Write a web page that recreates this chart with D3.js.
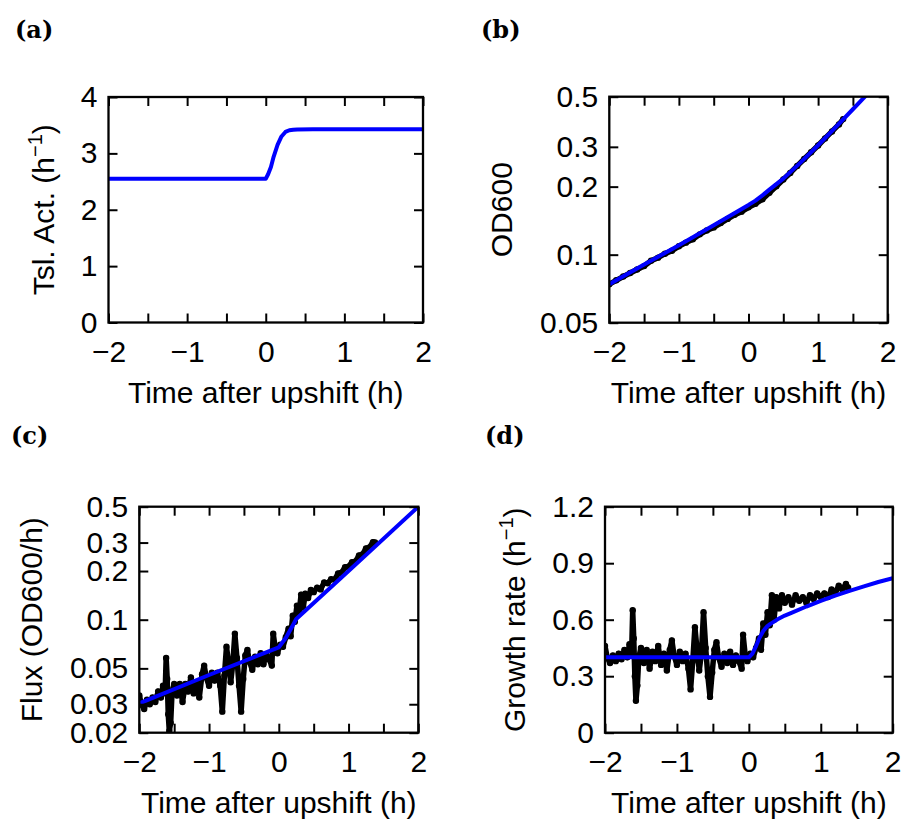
<!DOCTYPE html>
<html>
<head>
<meta charset="utf-8">
<script src="https://cdn.jsdelivr.net/npm/d3@7"></script>
<style>
  body { margin: 0; background: #fff; }
</style>
</head>
<body>
<script>
// ---- data ----
var xTicks = [-2, -1.5, -1, -0.5, 0, 0.5, 1, 1.5, 2];

// (a) translational activity, model
var tslT = [-2, 0, 0.03, 0.066, 0.1, 0.15, 0.2, 0.25, 0.3, 0.35, 0.4, 0.6, 2];
var tslV = [2.55, 2.55, 2.63, 2.76, 2.94, 3.15, 3.30, 3.38, 3.41, 3.42, 3.425, 3.43, 3.43];
var yTicksA = [0, 1, 2, 3, 4];

// (b) OD600, measured and model
var odT = [-2, -1.9, -1.8, -1.7, -1.6, -1.5, -1.4, -1.3, -1.2, -1.1, -1, -0.9, -0.8, -0.7, -0.6, -0.5,
           -0.4, -0.3, -0.2, -0.1, 0, 0.1, 0.2, 0.3, 0.4, 0.5, 0.6, 0.7, 0.8, 0.9, 1, 1.1, 1.2, 1.3, 1.36];
var odData = [0.074, 0.077, 0.080, 0.083, 0.086, 0.089, 0.094, 0.097, 0.101, 0.104, 0.109, 0.113, 0.117, 0.123,
              0.128, 0.132, 0.138, 0.144, 0.150, 0.155, 0.162, 0.168, 0.176, 0.188, 0.201, 0.215, 0.230, 0.247,
              0.265, 0.284, 0.304, 0.327, 0.351, 0.377, 0.398];
var odModelT = [-2, -1.5, -1, -0.5, 0, 0.1, 0.2, 0.3, 0.5, 0.75, 1, 1.25, 1.5, 1.75, 2];
var odModelV = [0.074, 0.0905, 0.110, 0.135, 0.166, 0.1735, 0.183, 0.194, 0.217, 0.256, 0.305, 0.366, 0.44, 0.53, 0.63];
var yTicksB = [0.05, 0.1, 0.2, 0.3, 0.5];

// (c), (d) measured flux and growth rate
var tData = [-2, -1.97, -1.93, -1.89, -1.85, -1.81, -1.77, -1.73, -1.69, -1.66, -1.63, -1.615, -1.6, -1.585,
             -1.57, -1.55, -1.53, -1.5, -1.46, -1.42, -1.38, -1.34, -1.3, -1.26, -1.22, -1.18, -1.14, -1.1,
             -1.07, -1.04, -1, -0.96, -0.92, -0.88, -0.84, -0.81, -0.78, -0.75, -0.72, -0.69, -0.66, -0.63,
             -0.6, -0.57, -0.54, -0.51, -0.48, -0.45, -0.42, -0.38, -0.34, -0.3, -0.26, -0.22, -0.18, -0.14,
             -0.1, -0.08, -0.05, -0.02, 0.02, 0.06, 0.1, 0.14, 0.17, 0.2, 0.23, 0.26, 0.29, 0.32, 0.35, 0.38,
             0.42, 0.46, 0.5, 0.55, 0.6, 0.65, 0.7, 0.75, 0.8, 0.85, 0.9, 0.95, 1, 1.05, 1.1, 1.15, 1.2, 1.25,
             1.3, 1.35, 1.38];
var growthData = [0.46, 0.40, 0.37, 0.41, 0.38, 0.42, 0.39, 0.44, 0.40, 0.47, 0.42, 0.65, 0.50, 0.30,
                  0.17, 0.25, 0.40, 0.45, 0.37, 0.44, 0.34, 0.43, 0.38, 0.46, 0.36, 0.42, 0.33, 0.44,
                  0.49, 0.41, 0.36, 0.43, 0.38, 0.42, 0.34, 0.23, 0.38, 0.56, 0.44, 0.33, 0.42, 0.64,
                  0.45, 0.30, 0.19, 0.32, 0.44, 0.48, 0.40, 0.35, 0.42, 0.37, 0.43, 0.36, 0.41, 0.38,
                  0.34, 0.52, 0.41, 0.38, 0.42, 0.40, 0.45, 0.50, 0.44, 0.58, 0.52, 0.64, 0.57, 0.73, 0.60, 0.72,
                  0.66, 0.73, 0.69, 0.72, 0.68, 0.73, 0.70, 0.72, 0.69, 0.73, 0.71, 0.74, 0.72, 0.74, 0.72, 0.76, 0.74, 0.78,
                  0.76, 0.79, 0.77];
var fluxData = [0.034, 0.030, 0.028, 0.032, 0.030, 0.033, 0.031, 0.036, 0.033, 0.039, 0.035, 0.058, 0.043, 0.026,
                0.0205, 0.023, 0.036, 0.040, 0.034, 0.040, 0.031, 0.040, 0.036, 0.044, 0.035, 0.041, 0.033, 0.046,
                0.052, 0.044, 0.039, 0.047, 0.042, 0.047, 0.039, 0.027, 0.045, 0.068, 0.054, 0.041, 0.053, 0.082,
                0.058, 0.039, 0.027, 0.043, 0.060, 0.065, 0.055, 0.049, 0.059, 0.053, 0.062, 0.053, 0.061, 0.057,
                0.052, 0.082, 0.066, 0.062, 0.070, 0.068, 0.078, 0.088, 0.079, 0.106, 0.097, 0.122, 0.110, 0.143, 0.119, 0.145,
                0.136, 0.153, 0.148, 0.158, 0.154, 0.170, 0.168, 0.178, 0.177, 0.193, 0.195, 0.211, 0.213, 0.227, 0.229, 0.250, 0.253, 0.276,
                0.280, 0.302, 0.300];
var fluxModelT = [-2, -1, 0, 0.1, 0.2, 0.25, 1, 2];
var fluxModelV = [0.0304, 0.0455, 0.0675, 0.077, 0.092, 0.101, 0.2, 0.5];
var yTicksC = [0.02, 0.03, 0.05, 0.1, 0.2, 0.3, 0.5];

var growthModelT = [-2, 0, 0.05, 0.1, 0.15, 0.2, 0.25, 0.3, 0.4, 0.5, 0.6, 0.8, 1, 1.2, 1.4, 1.6, 1.8, 2];
var growthModelV = [0.4, 0.4, 0.42, 0.46, 0.505, 0.54, 0.563, 0.578, 0.602, 0.622, 0.638, 0.67, 0.70, 0.728, 0.753, 0.777, 0.80, 0.82];
var yTicksD = [0, 0.3, 0.6, 0.9, 1.2];

var blue = "#0000ff";
var sans = "Liberation Sans, Arial, Helvetica, sans-serif";

var svg = d3.select("body").append("svg")
    .attr("width", 905)
    .attr("height", 822)
    .style("background", "#fff")
    .style("font-family", sans);

function fmtX(d) {
  if (d % 1 !== 0) return "";
  return d < 0 ? "\u2212" + Math.abs(d) : "" + d;
}

function zip(t, v) { return t.map(function(d, i) { return [d, v[i]]; }); }

var clipN = 0;
function panel(p) {
  var g = svg.append("g").attr("transform", "translate(" + p.left + "," + p.top + ")");
  var x = d3.scaleLinear().domain([-2, 2]).range([0, p.w]);
  var y = p.y.range([p.h, 0]);

  var id = "clip" + (clipN++);
  g.append("clipPath").attr("id", id).append("rect").attr("width", p.w).attr("height", p.h);
  var plot = g.append("g").attr("clip-path", "url(#" + id + ")");

  var bx = g.append("g").attr("transform", "translate(0," + p.h + ")")
      .call(d3.axisBottom(x).tickValues(xTicks).tickSize(-9).tickPadding(18).tickFormat(fmtX));
  var tx = g.append("g")
      .call(d3.axisTop(x).tickValues(xTicks).tickSize(-9).tickFormat(""));
  var ly = g.append("g")
      .call(d3.axisLeft(y).tickValues(p.yTicks).tickSize(-9).tickPadding(11).tickFormat(p.yFmt));
  var ry = g.append("g").attr("transform", "translate(" + p.w + ",0)")
      .call(d3.axisRight(y).tickValues(p.yTicks).tickSize(-9).tickFormat(""));
  [bx, tx, ly, ry].forEach(function(a) {
    a.attr("font-family", sans).attr("font-size", 30);
    a.select(".domain").remove();
    a.selectAll("line").attr("stroke", "#000").attr("stroke-width", 2);
    a.selectAll("text").attr("fill", "#000");
  });

  g.append("text")
      .attr("x", p.w / 2)
      .attr("y", p.h + 80)
      .attr("text-anchor", "middle")
      .attr("font-size", 30)
      .text("Time after upshift (h)");

  var yl = g.append("text")
      .attr("transform", "translate(" + p.labelX + "," + (p.h / 2) + ") rotate(-90)")
      .attr("text-anchor", "middle")
      .attr("font-size", 30)
      .text(p.yLabel);
  if (p.sup) {
    yl.append("tspan").attr("dy", -12).attr("font-size", 20).text("\u22121");
    yl.append("tspan").attr("dy", 12).text(")");
  }

  svg.append("text")
      .attr("x", p.letterX)
      .attr("y", p.letterY)
      .style("font-family", "'DejaVu Serif', 'Liberation Serif', serif")
      .style("font-weight", "bold")
      .style("font-size", "24px")
      .text(p.letter);

  return { g: g, x: x, y: y, plot: plot, w: p.w, h: p.h };
}

function drawData(P, pts) {
  var line = d3.line().x(function(d) { return P.x(d[0]); }).y(function(d) { return P.y(d[1]); });
  P.plot.append("path").datum(pts)
      .attr("d", line)
      .attr("fill", "none")
      .attr("stroke", "#000")
      .attr("stroke-width", 5.5)
      .attr("stroke-linejoin", "round")
      .attr("stroke-linecap", "round");
  P.plot.selectAll(".dot").data(pts).enter().append("circle")
      .attr("class", "dot")
      .attr("cx", function(d) { return P.x(d[0]); })
      .attr("cy", function(d) { return P.y(d[1]); })
      .attr("r", 3.2)
      .attr("fill", "#000");
}

function drawModel(P, pts) {
  var line = d3.line().x(function(d) { return P.x(d[0]); }).y(function(d) { return P.y(d[1]); });
  P.plot.append("path").datum(pts)
      .attr("d", line)
      .attr("fill", "none")
      .attr("stroke", blue)
      .attr("stroke-width", 4)
      .attr("stroke-linejoin", "round");
}

function frame(P) {
  P.g.append("rect")
      .attr("width", P.w).attr("height", P.h)
      .attr("fill", "none").attr("stroke", "#000").attr("stroke-width", 2.3);
}

// (a)
var A = panel({ left: 108.5, top: 97, w: 314.5, h: 225.5,
  y: d3.scaleLinear().domain([0, 4]), yTicks: yTicksA, yFmt: d3.format("d"),
  yLabel: "Tsl. Act. (h", sup: true, labelX: -55, letter: "(a)", letterX: 15, letterY: 38 });
drawModel(A, zip(tslT, tslV));
frame(A);

// (b)
var B = panel({ left: 609.3, top: 96.7, w: 278.4, h: 226,
  y: d3.scaleLog().domain([0.05, 0.5]), yTicks: yTicksB, yFmt: function(d) { return "" + d; },
  yLabel: "OD600", sup: false, labelX: -97, letter: "(b)", letterX: 481, letterY: 38 });
drawData(B, zip(odT, odData));
drawModel(B, zip(odModelT, odModelV));
frame(B);

// (c)
var C = panel({ left: 139.3, top: 506.7, w: 279, h: 226,
  y: d3.scaleLog().domain([0.02, 0.5]), yTicks: yTicksC, yFmt: function(d) { return "" + d; },
  yLabel: "Flux (OD600/h)", sup: false, labelX: -97, letter: "(c)", letterX: 11, letterY: 444 });
drawData(C, zip(tData, fluxData));
drawModel(C, zip(fluxModelT, fluxModelV));
frame(C);

// (d)
var D = panel({ left: 605, top: 506.7, w: 287.7, h: 226,
  y: d3.scaleLinear().domain([0, 1.2]), yTicks: yTicksD, yFmt: function(d) { return d === 0 ? "0" : d3.format(".1f")(d); },
  yLabel: "Growth rate (h", sup: true, labelX: -80, letter: "(d)", letterX: 485, letterY: 444 });
drawData(D, zip(tData, growthData));
drawModel(D, zip(growthModelT, growthModelV));
frame(D);
</script>
</body>
</html>
